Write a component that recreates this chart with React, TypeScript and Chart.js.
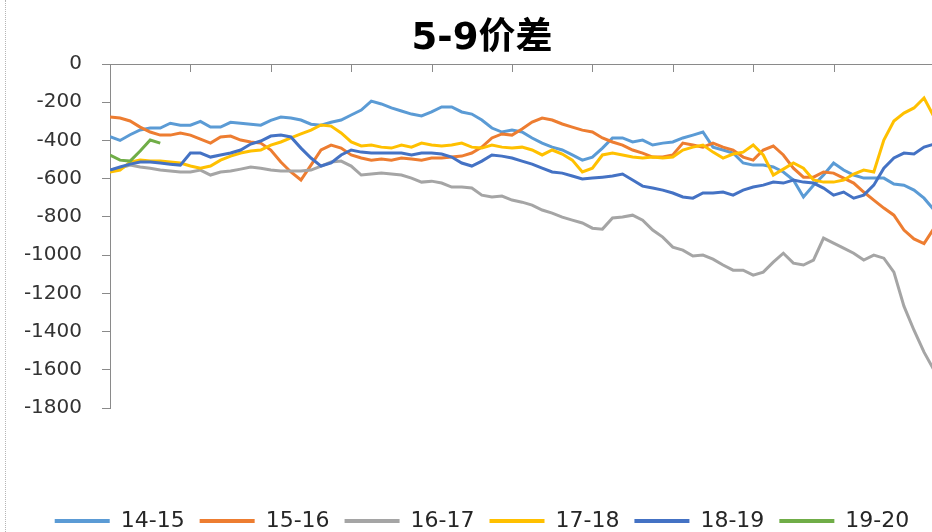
import React, { useEffect, useRef } from 'react';
import { Chart, registerables } from 'chart.js';

Chart.register(...registerables);

const chartTitle = '5-9价差';
const seriesNames = ['14-15', '15-16', '16-17', '17-18', '18-19', '19-20'];
const seriesColors = ['#5B9BD5', '#ED7D31', '#A5A5A5', '#FFC000', '#4472C4', '#70AD47'];
const yMin = -1800;
const yMax = 0;
const yStep = 200;
const xTickEvery = 8;

const s1415 = [
  -380, -400, -370, -345, -335, -335, -310, -320, -320, -300,
  -330, -330, -305, -310, -315, -320, -295, -278, -283, -293,
  -315, -320, -305, -293, -267, -241, -194, -209, -230, -246,
  -262, -272, -251, -225, -225, -251, -262, -293, -335, -356,
  -346, -356, -387, -414, -435, -450, -476, -503, -487, -440,
  -387, -387, -408, -398, -424, -414, -408, -387, -372, -356,
  -435, -450, -466, -518, -529, -529, -539, -565, -607, -696,
  -634, -581, -518, -555, -581, -597, -597, -597, -628, -634,
  -660, -702, -764,
];
const s1516 = [
  -277, -283, -298, -330, -356, -372, -372, -361, -372, -393,
  -414, -382, -377, -398, -408, -414, -450, -513, -565, -607,
  -529, -450, -424, -440, -476, -492, -503, -497, -503, -492,
  -497, -503, -492, -492, -487, -482, -466, -435, -387, -366,
  -372, -340, -304, -283, -293, -314, -330, -346, -356, -387,
  -408, -424, -450, -466, -487, -487, -476, -414, -424, -435,
  -414, -435, -450, -487, -503, -450, -429, -476, -545, -592,
  -592, -565, -571, -597, -623, -670, -712, -754, -791, -869,
  -915, -940, -859,
];
const s1617 = [
  -555, -545, -529, -539, -545, -555, -560, -565, -565, -555,
  -581, -565, -560, -550, -539, -545, -555, -560, -560, -560,
  -555, -534, -513, -508, -534, -581, -576, -571, -576, -581,
  -597, -618, -613, -623, -644, -644, -649, -686, -696, -691,
  -712, -723, -738, -764, -780, -801, -817, -832, -859, -864,
  -806, -801, -791, -817, -869, -906, -958, -974, -1005, -1000,
  -1021, -1052, -1079, -1079, -1105, -1089, -1037, -990, -1042, -1052,
  -1026, -911, -937, -963, -990, -1026, -1000, -1016, -1089, -1267,
  -1393, -1508, -1602,
];
const s1718 = [
  -565, -555, -513, -503, -508, -508, -513, -518, -534, -545,
  -534, -503, -482, -466, -455, -450, -424, -408, -387, -366,
  -346, -319, -325, -361, -408, -429, -424, -435, -440, -424,
  -435, -414, -424, -429, -424, -414, -435, -440, -424, -435,
  -440, -435, -450, -476, -450, -471, -503, -565, -545, -476,
  -466, -476, -487, -492, -487, -492, -487, -450, -435, -424,
  -461, -492, -471, -461, -424, -476, -581, -550, -518, -545,
  -607, -618, -618, -607, -576, -555, -565, -398, -298, -257,
  -230, -178, -277,
];
const s1819 = [
  -555, -539, -524, -513, -513, -518, -524, -529, -466, -466,
  -487, -476, -466, -450, -419, -403, -377, -372, -382, -440,
  -492, -534, -518, -476, -450, -461, -466, -466, -466, -466,
  -476, -466, -466, -471, -487, -518, -534, -508, -476, -482,
  -492, -508, -524, -545, -565, -571, -586, -602, -597, -592,
  -586, -576, -607, -639, -649, -660, -675, -696, -702, -675,
  -675, -670, -686, -660, -644, -634, -618, -623, -607, -618,
  -623, -649, -686, -670, -702, -686, -634, -545, -492, -466,
  -471, -435, -419,
];
const s1920 = [-476, -503, -508, -455, -398, -414];

const seriesValues = [s1415, s1516, s1617, s1718, s1819, s1920];

const FONT = "'DejaVu Sans', 'Noto Sans CJK SC', sans-serif";
const AXIS = '#8a8a8a';

const topTickMarks = {
  id: 'topTickMarks',
  afterDatasetsDraw(chart: any) {
    const sc = chart.scales.x;
    const area = chart.chartArea;
    const ctx = chart.ctx;
    ctx.save();
    ctx.strokeStyle = AXIS;
    ctx.lineWidth = 1;
    sc.ticks.forEach((t: any) => {
      const px = Math.round(sc.getPixelForValue(t.value)) + 0.5;
      if (px > area.right - 1) return;
      ctx.beginPath();
      ctx.moveTo(px, area.top);
      ctx.lineTo(px, area.top + 8);
      ctx.stroke();
    });
    ctx.restore();
  },
};

export default function App() {
  const canvasRef = useRef<HTMLCanvasElement | null>(null);

  useEffect(() => {
    document.body.style.margin = '0';
    const canvas = canvasRef.current;
    if (!canvas) return;
    const n = seriesValues.length;
    const chart = new Chart(canvas, {
      type: 'line',
      data: {
        datasets: seriesValues.map((arr, k) => ({
          label: seriesNames[k],
          data: arr.map((v, i) => ({ x: i, y: v })),
          borderColor: seriesColors[k],
          backgroundColor: seriesColors[k],
          borderWidth: 3,
          pointRadius: 0,
          pointHoverRadius: 0,
          tension: 0,
          order: n - k,
        })),
      },
      options: {
        responsive: false,
        animation: false,
        devicePixelRatio: 1,
        layout: { padding: 0 },
        events: [],
        plugins: {
          title: {
            display: true,
            text: chartTitle,
            color: '#000000',
            font: { family: FONT, size: 37, weight: 'bold' },
            padding: { top: 17, bottom: 2.6 },
          },
          legend: {
            position: 'bottom',
            labels: {
              boxWidth: 55,
              boxHeight: 4,
              padding: 15,
              color: '#262626',
              font: { family: FONT, size: 22 },
              sort: (a: any, b: any) => a.datasetIndex - b.datasetIndex,
              generateLabels: (c: any) =>
                (Chart.defaults.plugins.legend.labels as any)
                  .generateLabels(c)
                  .map((l: any) => ({ ...l, lineWidth: 0, fillStyle: l.strokeStyle })),
            },
          },
          tooltip: { enabled: false },
        },
        scales: {
          x: {
            type: 'linear',
            position: 'top',
            min: 0,
            max: 84.28,
            ticks: { display: false, stepSize: xTickEvery, maxTicksLimit: 30 },
            grid: { display: false, drawTicks: false },
            border: { display: true, color: AXIS, width: 1 },
            afterFit: (s: any) => {
              s.height = 0;
            },
          },
          xPad: {
            type: 'linear',
            position: 'bottom',
            display: true,
            min: 0,
            max: 1,
            grid: { display: false, drawTicks: false },
            border: { display: false },
            ticks: { display: false },
            afterFit: (s: any) => {
              s.height = 87;
            },
          },
          y: {
            type: 'linear',
            position: 'left',
            min: yMin,
            max: yMax,
            ticks: {
              stepSize: yStep,
              padding: 20,
              color: '#333333',
              font: { family: FONT, size: 20 },
              callback: (v: any) => String(v),
            },
            grid: { drawOnChartArea: false, drawTicks: true, tickLength: 8, color: AXIS, lineWidth: 1 },
            border: { display: true, color: AXIS, width: 1 },
            afterFit: (s: any) => {
              s.width = 103;
            },
          },
        },
      } as any,
      plugins: [topTickMarks],
    });
    return () => chart.destroy();
  }, []);

  return (
    <div style={{ position: 'relative', width: 932, height: 532, overflow: 'hidden', background: '#ffffff' }}>
      <div
        style={{
          position: 'absolute',
          left: 5,
          top: 0,
          width: 0,
          height: 532,
          borderLeft: '1px dotted #b5b5b5',
        }}
      />
      <div style={{ position: 'absolute', left: 7, top: 0, width: 950, height: 542 }}>
        <canvas ref={canvasRef} width={950} height={542} style={{ display: 'block' }} />
      </div>
    </div>
  );
}
